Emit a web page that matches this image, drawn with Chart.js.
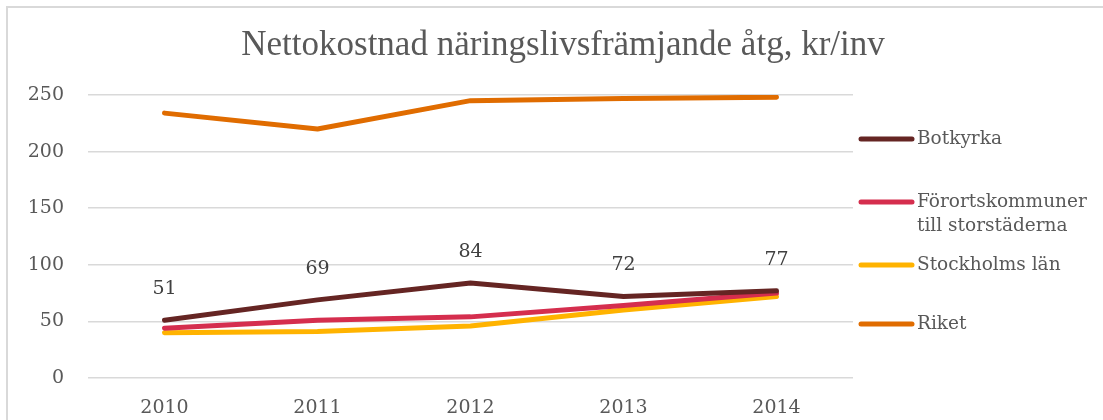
<!DOCTYPE html>
<html>
<head>
<meta charset="utf-8">
<script src="https://cdn.jsdelivr.net/npm/chart.js@4"></script>
<style>
  html, body { margin: 0; padding: 0; background: #fff; }
  #wrap { width: 1103px; height: 420px; position: relative; }
</style>
</head>
<body>
<div id="wrap"><canvas id="chart" width="1103" height="420"></canvas></div>
<script>
// ---- data ----
const years = ["2010", "2011", "2012", "2013", "2014"];
const botkyrka = [51, 69, 84, 72, 77];
const fororter = [44, 51, 54, 64, 75];
const stockholm = [40, 41, 46, 60, 72];
const riket = [234, 220, 245, 247, 248];
const yTicks = [0, 50, 100, 150, 200, 250];

const titleText = "Nettokostnad näringslivsfrämjande åtg, kr/inv";
const serif = "'DejaVu Serif', serif";
const grey = "#595959";

// ram, titel, etiketter och legend ritas för hand
const decor = {
    id: "decor",
    beforeDraw(chart) {
        const ctx = chart.ctx;
        ctx.save();
        ctx.strokeStyle = "#d9d9d9";
        ctx.lineWidth = 2;
        ctx.beginPath();
        ctx.moveTo(7, 420);
        ctx.lineTo(7, 7);
        ctx.lineTo(1103, 7);
        ctx.stroke();

        ctx.fillStyle = grey;
        ctx.font = "35px 'Liberation Serif', serif";
        ctx.textAlign = "center";
        ctx.textBaseline = "middle";
        ctx.fillText(titleText, 563, 46);
        ctx.restore();
    },
    afterDatasetsDraw(chart) {
        const ctx = chart.ctx;
        ctx.save();

        // värden för Botkyrka
        const meta = chart.getDatasetMeta(0);
        ctx.fillStyle = "#404040";
        ctx.font = "19px " + serif;
        ctx.textAlign = "center";
        ctx.textBaseline = "middle";
        meta.data.forEach((pt, i) => {
            ctx.fillText(String(botkyrka[i]), pt.x, pt.y - 31);
        });

        // legend
        const legendY = [139, 202, 265, 324];
        ctx.font = "18.5px " + serif;
        ctx.textAlign = "left";
        chart.data.datasets.forEach((ds, i) => {
            const y = legendY[i];
            ctx.strokeStyle = ds.borderColor;
            ctx.lineWidth = 5;
            ctx.lineCap = "round";
            ctx.beginPath();
            ctx.moveTo(861, y);
            ctx.lineTo(912, y);
            ctx.stroke();
            ctx.fillStyle = grey;
            const lines = Array.isArray(ds.label) ? ds.label : [ds.label];
            lines.forEach((t, j) => ctx.fillText(t, 917, y + j * 24));
        });
        ctx.restore();
    }
};

function lineSet(label, data, color) {
    return {
        label: label,
        data: data,
        borderColor: color,
        backgroundColor: color,
        borderWidth: 5,
        pointRadius: 0,
        tension: 0,
        borderCapStyle: "round",
        borderJoinStyle: "round"
    };
}

new Chart(document.getElementById("chart"), {
    type: "line",
    data: {
        labels: years,
        datasets: [
            lineSet("Botkyrka", botkyrka, "#652523"),
            lineSet(["Förortskommuner", "till storstäderna"], fororter, "#d52e4e"),
            lineSet("Stockholms län", stockholm, "#ffb300"),
            lineSet("Riket", riket, "#e06c00")
        ]
    },
    options: {
        responsive: false,
        animation: false,
        layout: { padding: { top: 95, right: 250, left: 0, bottom: 0 } },
        plugins: {
            legend: { display: false },
            title: { display: false },
            tooltip: { enabled: false }
        },
        scales: {
            x: {
                offset: true,
                grid: { display: false },
                border: { display: false },
                ticks: { color: grey, font: { family: serif, size: 19 }, padding: 11 },
                afterFit(axis) { axis.height = 42; }
            },
            y: {
                min: 0,
                max: 250,
                afterBuildTicks(axis) { axis.ticks = yTicks.map(v => ({ value: v })); },
                grid: { color: "#d9d9d9", lineWidth: 1.5, drawTicks: false },
                border: { display: false },
                ticks: { color: grey, font: { family: serif, size: 19 }, padding: 24 },
                afterFit(axis) { axis.width = 88; }
            }
        }
    },
    plugins: [decor]
});
</script>
</body>
</html>
